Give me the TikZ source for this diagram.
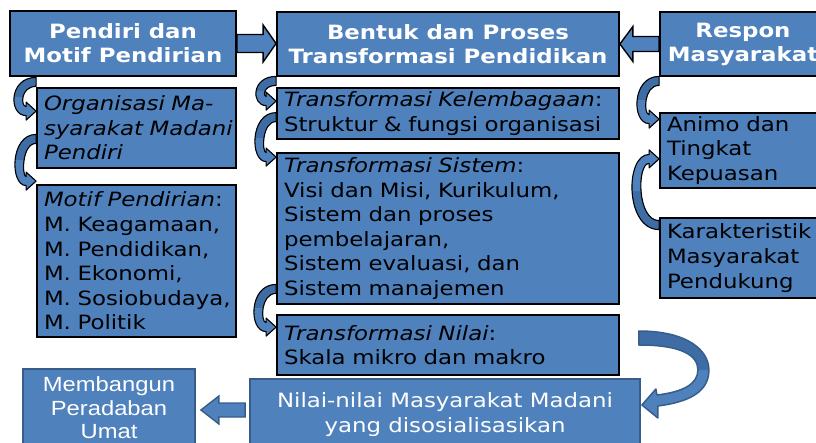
\documentclass[tikz,border=0pt]{standalone}
\usepackage{fontspec}
\setmainfont{DejaVu Sans}[BoldFont={DejaVu Sans Bold},ItalicFont={DejaVu Sans Oblique},FakeStretch=1.16]
\newfontfamily\arialfont{Liberation Sans}[FakeStretch=1.16]
\usepackage{tikz}
\usetikzlibrary{calc,positioning}
\definecolor{boxblue}{HTML}{4F81BD}
\definecolor{edgeblue}{HTML}{385D8A}
\definecolor{backblue}{HTML}{3E6CA4}
\tikzstyle{headbox}=[rectangle, draw=black, line width=1.8pt, fill=boxblue, text=white, font=\fontsize{19.7}{24}\selectfont\bfseries, align=center, inner sep=0pt]
\tikzstyle{itembox}=[rectangle, draw=black, line width=1.8pt, fill=boxblue, text=black, font=\fontsize{19.7}{24.6}\selectfont, align=left, inner xsep=7pt, inner ysep=0pt]
\tikzstyle{outbox}=[rectangle, draw=edgeblue, line width=1.8pt, fill=boxblue, text=white, align=center, inner sep=0pt]
\tikzstyle{barrow}=[draw=black, line width=1.4pt, fill=boxblue]
\tikzstyle{curlyfront}=[fill=boxblue]
\tikzstyle{curlyback}=[fill=backblue]
\tikzstyle{curlyline}=[draw=black, line width=1.1pt, line join=round]
\tikzstyle{bigline}=[draw=edgeblue, line width=1.5pt, line join=round]
\newcommand{\blockarrow}[6][]{%
  \filldraw[barrow,#1] let \p1=(#2), \p2=(#3), \n1={ifthenelse(\x2>\x1,1,-1)} in
    (\x1,{\y1+#4pt}) -- ({\x2-(\n1)*#6pt},{\y1+#4pt}) -- ({\x2-(\n1)*#6pt},{\y1+#5pt})
    -- (\x2,\y1) -- ({\x2-(\n1)*#6pt},{\y1-#5pt}) -- ({\x2-(\n1)*#6pt},{\y1-#4pt})
    -- (\x1,{\y1-#4pt}) -- cycle;}
\newcommand{\curlypath}{(ca) .. controls (cb) and (cc) .. (cd) -- (ce) -- (ct) -- (cf) -- (cg) .. controls (ch) and (ci) .. (cj) -- cycle}
\newcommand{\curlyarrow}[3]{%
  \path let \p1=(#1), \p2=(#2), \n1={ifthenelse(\y2>\y1,1,-1)},
        \n2={(8*#3-10)/6}, \n3={(8*(#3-9)-10)/6} in
    coordinate (ct) at (\p2)
    coordinate (ca) at (\x2,{\y1-(\n1)*4.5pt})
    coordinate (cb) at ({\x2-\n2*1pt},{\y1-(\n1)*4.5pt})
    coordinate (cc) at ({\x2-\n2*1pt},{\y2+(\n1)*4.5pt})
    coordinate (cd) at ({\x2-10pt},{\y2+(\n1)*4.5pt})
    coordinate (ce) at ({\x2-10pt},{\y2+(\n1)*9pt})
    coordinate (cf) at ({\x2-10pt},{\y2-(\n1)*9pt})
    coordinate (cg) at ({\x2-10pt},{\y2-(\n1)*4.5pt})
    coordinate (ch) at ({\x2-\n3*1pt},{\y2-(\n1)*4.5pt})
    coordinate (ci) at ({\x2-\n3*1pt},{\y1+(\n1)*4.5pt})
    coordinate (cj) at (\x2,{\y1+(\n1)*4.5pt})
    coordinate (ck) at ({\x2-(#3+4)*1pt},{\y1-(\n1)*20pt})
    coordinate (cl) at ({\x2+4pt},{(\y1+\y2)/2});
  \fill[curlyfront] \curlypath;
  \begin{scope}
    \clip (ck) rectangle (cl);
    \fill[curlyback] \curlypath;
  \end{scope}
  \draw[curlyline] \curlypath;}

\begin{document}
\begin{tikzpicture}[x=1pt, y=-1pt]
	\useasboundingbox (0,0) rectangle (816,443);
	\clip (0,0) rectangle (816,443);

	\node[headbox, minimum width=226pt, minimum height=65pt] (pendiri) at (123,43.5) {Pendiri dan\\Motif Pendirian};

	\node[itembox, minimum width=199pt, text width=185pt, minimum height=80pt] (orgmm) at (136.5,128) {\textit{Organisasi Ma-}\\\textit{\mbox{syarakat Madani}}\\\textit{Pendiri}};

	\node[itembox, minimum width=199pt, text width=185pt, minimum height=152pt] (motif) at (136.5,261) {\textit{Motif Pendirian}:\\M. Keagamaan,\\M. Pendidikan,\\M. Ekonomi,\\\mbox{M. Sosiobudaya,}\\M. Politik};

	\node[headbox, minimum width=342pt, minimum height=64pt] (bentuk) at (448,44) {Bentuk dan Proses\\Transformasi Pendidikan};

	\node[itembox, minimum width=342pt, text width=328pt, minimum height=51pt] (kelembagaan) at (448,113.5) {\textit{Transformasi Kelembagaan}:\\Struktur \& fungsi organisasi};

	\node[itembox, minimum width=342pt, text width=328pt, minimum height=151pt] (sistem) at (448,228.5) {\textit{Transformasi Sistem}:\\Visi dan Misi, Kurikulum,\\Sistem dan proses\\pembelajaran,\\Sistem evaluasi, dan\\Sistem manajemen};

	\node[itembox, minimum width=342pt, text width=328pt, minimum height=60pt] (nilai) at (448,345) {\textit{Transformasi Nilai}:\\Skala mikro dan makro};

	\node[outbox, font=\fontsize{19.7}{25}\selectfont, minimum width=390pt, minimum height=71pt] (nilaimm) at (445,414.5) {Nilai-nilai Masyarakat Madani\\yang disosialisasikan};

	\node[outbox, font=\arialfont\fontsize{20.5}{23.5}\selectfont, minimum width=172pt, minimum height=78pt] (peradaban) at (109,408) {Membangun\\Peradaban\\Umat};

	\node[headbox, minimum width=166pt, minimum height=64pt] (respon) at (743,44) {Respon\\Masyarakat};

	\node[itembox, minimum width=166pt, text width=152pt, minimum height=75pt] (animo) at (743,150.5) {Animo dan\\Tingkat\\Kepuasan};

	\node[itembox, minimum width=166pt, text width=152pt, minimum height=80pt] (karakter) at (743,258) {Karakteristik\\Masyarakat\\Pendukung};

	\blockarrow{pendiri.east}{bentuk.west}{9}{18.5}{13}
	\blockarrow{respon.west}{bentuk.east}{7.5}{17.5}{13}
	\blockarrow[draw=edgeblue]{$(nilaimm.west)+(-4,-4.5)$}{$(peradaban.east)+(5,0)$}{7}{14}{18}

	\curlyarrow{$(pendiri.south -| orgmm.west)+(0,5)$}{$(orgmm.north west)+(0,24)$}{22}
	\curlyarrow{$(orgmm.south west)+(0,-30)$}{$(motif.north west)+(0,-3)$}{21}
	\curlyarrow{$(bentuk.south -| kelembagaan.west)+(0,4)$}{$(kelembagaan.north west)+(0,14)$}{20}
	\curlyarrow{$(kelembagaan.north west)+(0,30)$}{$(sistem.north west)+(0,5)$}{21}
	\curlyarrow{$(sistem.south west)+(0,-16)$}{$(nilai.north west)+(0,13)$}{22}
	\curlyarrow{$(respon.south west)+(0,4)$}{$(animo.north west)+(0,7)$}{22}
	\curlyarrow{$(karakter.north west)+(0,8)$}{$(animo.south west)+(0,-30)$}{27}

	\coordinate (bigtail) at ($(nilai.east)+(19,-7)$);
	\coordinate (bigtip) at ($(nilaimm.east)+(1,-9.5)$);
	\begin{scope}[shift={(bigtail)}]
		\fill[curlyfront] (0,-7) .. controls (48,-7) and (70,12) .. (70,32) .. controls (70,54) and (50,64) .. (19,68) -- (19,80) -- (bigtip) -- (17,51) -- (18,57) .. controls (44,54) and (59,46) .. (59,32) .. controls (59,17) and (42,7) .. (0,7) -- cycle;
		\begin{scope}
			\clip (-5,-15) rectangle (80,32);
			\fill[curlyback] (0,-7) .. controls (48,-7) and (70,12) .. (70,32) -- (59,32) .. controls (59,17) and (42,7) .. (0,7) -- cycle;
		\end{scope}
		\draw[bigline] (0,-7) .. controls (48,-7) and (70,12) .. (70,32) .. controls (70,54) and (50,64) .. (19,68) -- (19,80) -- (bigtip) -- (17,51) -- (18,57) .. controls (44,54) and (59,46) .. (59,32) .. controls (59,17) and (42,7) .. (0,7) -- cycle;
	\end{scope}

\end{tikzpicture}
\end{document}
